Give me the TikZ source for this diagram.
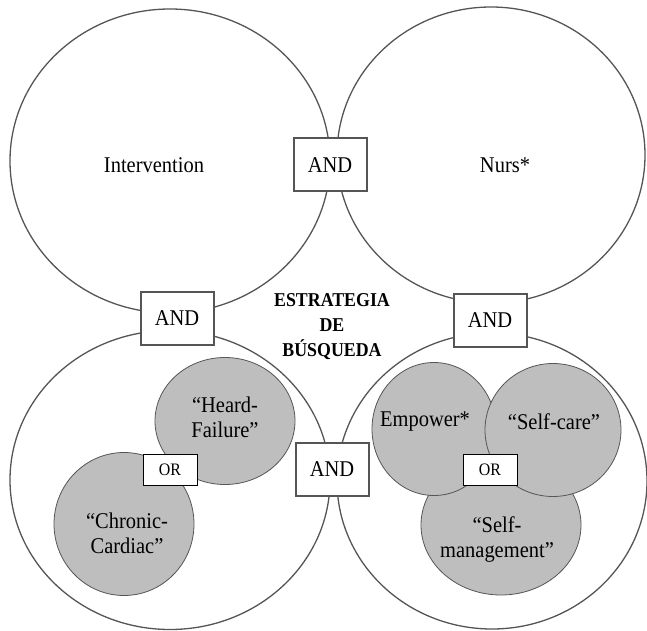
\documentclass[tikz,border=0pt]{standalone}
\usepackage{fontspec}
\setmainfont[FakeStretch=0.91]{Liberation Serif}
\usetikzlibrary{shapes.geometric}

\definecolor{edgegray}{RGB}{85,85,85}
\definecolor{setgray}{RGB}{190,190,190}

\tikzset{
  outerset/.style={draw=edgegray, line width=1.3pt, ellipse, inner sep=0},
  termset/.style={draw=edgegray, line width=0.8pt, fill=setgray, ellipse, inner sep=0},
  andbox/.style={draw=edgegray, line width=2pt, fill=white, minimum width=73, minimum height=53, inner sep=0},
  orbox/.style={draw=black, line width=0.9pt, fill=white, minimum width=54, minimum height=31, inner sep=0, font=\fontsize{17.5}{20}\selectfont},
  txt/.style={align=center, inner sep=0}
}

\begin{document}
\begin{tikzpicture}[x=1pt, y=1pt, font=\fontsize{22.5}{25}\selectfont]
\useasboundingbox (0,0) rectangle (647,630);

% the four big sets
\node (interv) [outerset, minimum width=320, minimum height=304] at (170,469) {};
\node (nurs) [outerset, minimum width=308, minimum height=296] at (491,475) {};
\node (cardio) [outerset, minimum width=320, minimum height=299] at (170,150) {};
\node (selfset) [outerset, minimum width=310, minimum height=296] at (492,149) {};

% terms, left
\node (heard) [termset, minimum width=140, minimum height=127] at (225,209) {};
\node (chronic) [termset, minimum width=140, minimum height=143] at (124,106) {};

% terms, right
\node (selfmgmt) [termset, minimum width=160, minimum height=140] at (501,105) {};
\node (empower) [termset, minimum width=124, minimum height=133] at (434,201) {};
\node (selfcare) [termset, minimum width=136, minimum height=133] at (553,200) {};

% labels
\node (intervtxt) [txt] at (154,465) {Intervention};
\node (nurstxt) [txt] at (505,465) {Nurs*};
\node (heardtxt) [txt] at (225,213) {“Heard-\\Failure”};
\node (chronictxt) [txt] at (127,97) {“Chronic-\\Cardiac”};
\node (empowertxt) [txt] at (425,208) {Empower*};
\node (selfcaretxt) [txt] at (554,208) {“Self-care”};
\node (selfmgmttxt) [txt] at (497,90) {“Self-\\management”};
\node (title) [txt, font=\bfseries\fontsize{19.6}{25}\selectfont] at (332,303) {ESTRATEGIA\\DE\\BÚSQUEDA};

% operators
\node (andtop) [andbox] at (330,465) {AND};
\node (andleft) [andbox] at (177,312) {AND};
\node (andright) [andbox] at (490,310) {AND};
\node (andbot) [andbox] at (332,161) {AND};
\node (orleft) [orbox] at (170,160) {OR};
\node (orright) [orbox] at (490,160) {OR};
\end{tikzpicture}
\end{document}
